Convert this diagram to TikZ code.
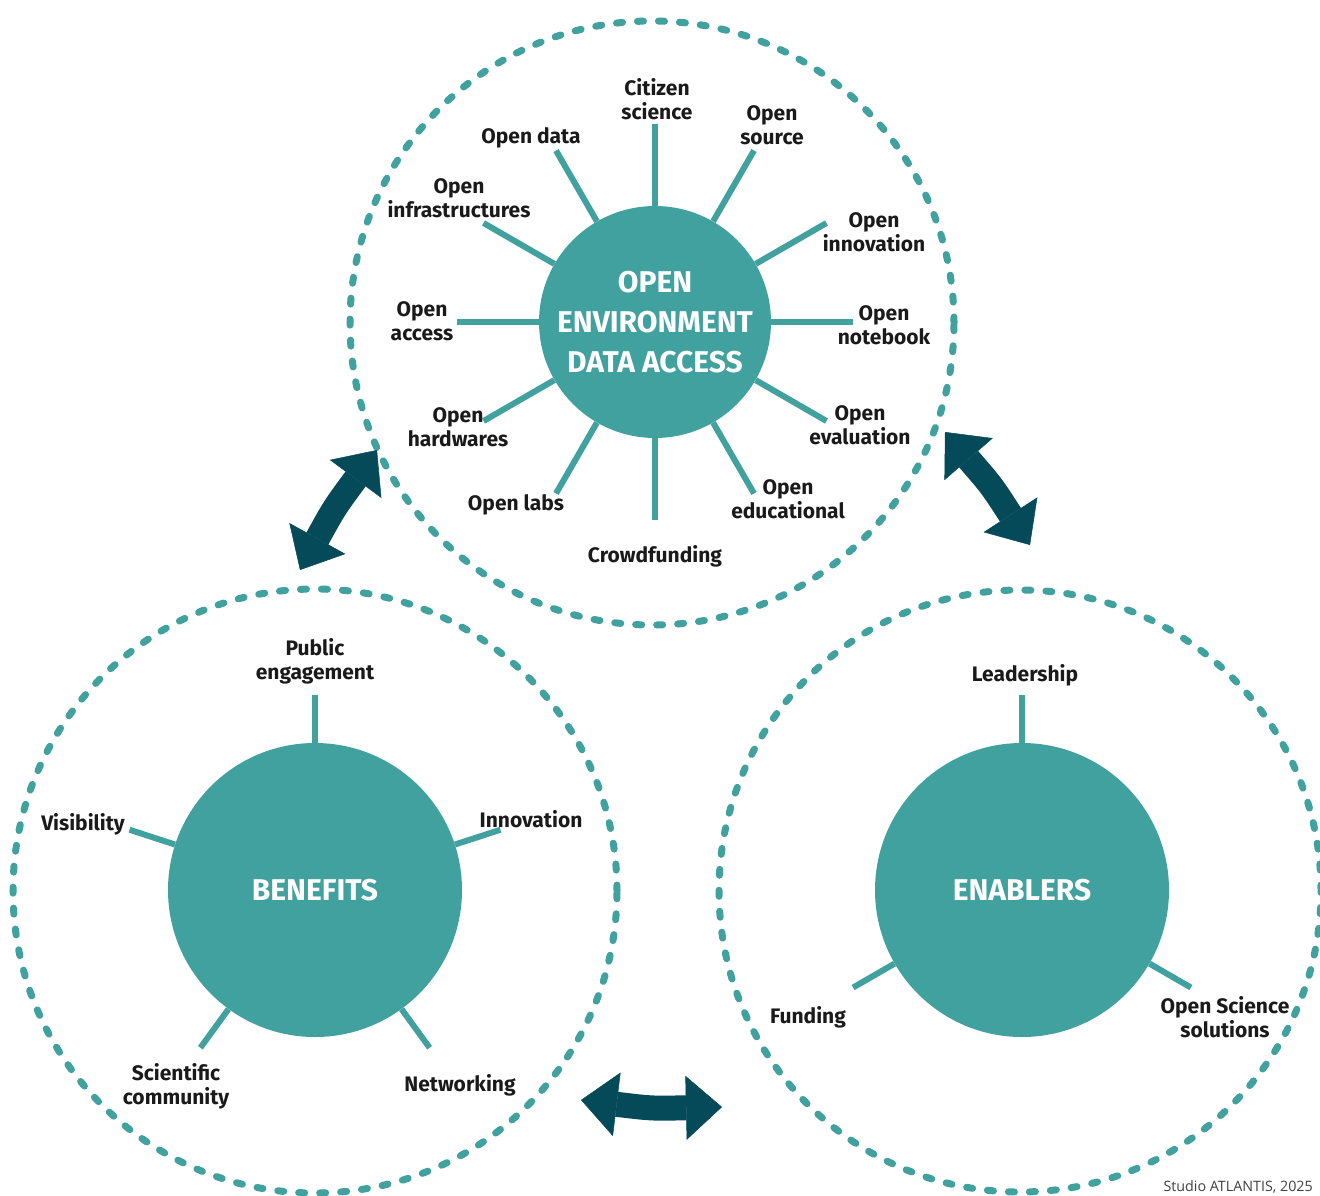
\documentclass[tikz,border=0pt]{standalone}
\usepackage{fontspec}
\setmainfont{Fira Sans}
\newfontfamily\creditfont{Open Sans}
\usetikzlibrary{arrows.meta,calc}
\definecolor{teal1}{RGB}{64,161,159}
\definecolor{arrowc}{RGB}{4,74,89}
\definecolor{txt}{RGB}{26,26,26}
\begin{document}
\begin{tikzpicture}[x=1pt,y=-1pt,
 ring/.style={draw=teal1,line width=7pt,dash pattern=on 6pt off 15pt,line cap=round},
 hub/.style={circle,fill=teal1,inner sep=0pt,text=white,font=\fontsize{30}{40}\selectfont\bfseries,align=center},
 spoke/.style={draw=teal1,line width=6pt},
 lab/.style={text=txt,font=\fontsize{21}{24}\selectfont\bfseries,align=center,inner sep=0pt},
 dbl/.style={draw=arrowc,line width=25pt,{Triangle[length=36pt,width=64pt,line width=0.5pt]}-{Triangle[length=36pt,width=64pt,line width=0.5pt]}}
]
\useasboundingbox (0,0) rectangle (1320,1195);

% dashed rings
\draw[ring] (652,323) circle (302pt);
\draw[ring] (315,891) circle (302pt);
\draw[ring] (1020,891) circle (301pt);

% hubs
\node[hub,minimum size=232pt] (top) at (655,322) {OPEN\\ENVIRONMENT\\DATA ACCESS};
\node[hub,minimum size=294pt] (ben) at (315,890) {BENEFITS};
\node[hub,minimum size=294pt] (ena) at (1022,890) {ENABLERS};

% spokes
\foreach \a in {0,30,...,330}
  \draw[spoke] (top.\a) -- ($(top.center)+(\a:198pt)$);
\foreach \a in {90,162,18,234,306}
  \draw[spoke] (ben.\a) -- ($(ben.center)+(\a:195pt)$);
\foreach \a in {90,210,330}
  \draw[spoke] (ena.\a) -- ($(ena.center)+(\a:195pt)$);

% top labels
\node[lab] (l1) at (657,99) {Citizen\\science};
\node[lab] (l2) at (772,125) {Open\\source};
\node[lab] (l3) at (874,232) {Open\\innovation};
\node[lab] (l4) at (884,325) {Open\\notebook};
\node[lab] (l5) at (860,425) {Open\\evaluation};
\node[lab] (l6) at (788,499) {Open\\educational};
\node[lab] (l7) at (655,556) {Crowdfunding};
\node[lab] (l8) at (516,505) {Open labs};
\node[lab] (l9) at (458,427) {Open\\hardwares};
\node[lab] (l10) at (422,321) {Open\\access};
\node[lab] (l11) at (459,198) {Open\\infrastructures};
\node[lab] (l12) at (531,138) {Open data};

% benefits labels
\node[lab] (b1) at (315,661) {Public\\engagement};
\node[lab] (b2) at (83,824) {Visibility};
\node[lab] (b3) at (531,819) {Innovation};
\node[lab] (b4) at (176,1086) {Scientific\\community};
\node[lab] (b5) at (460,1085) {Networking};

% enablers labels
\node[lab] (e1) at (1025,675) {Leadership};
\node[lab] (e2) at (808,1017) {Funding};
\node[lab] (e3) at (1225,1017) {Open Science\\solutions};

% double arrows
\coordinate (a1s) at (300,570);
\coordinate (a1e) at (377,450);
\coordinate (a2s) at (945,432);
\coordinate (a2e) at (1030,545);
\coordinate (a3s) at (581,1100);
\coordinate (a3e) at (722,1107);
\draw[dbl] (a1s) .. controls (334.5,507.5) .. (a1e);
\draw[dbl] (a2s) .. controls (991.5,485.5) .. (a2e);
\draw[dbl] (a3s) .. controls (651.5,1108.5) .. (a3e);

% credit
\node[text=black!75,font=\creditfont\fontsize{14.3}{16}\selectfont,anchor=south east,inner sep=0pt] (cr) at (1313,1194) {Studio ATLANTIS, 2025};
\end{tikzpicture}
\end{document}
